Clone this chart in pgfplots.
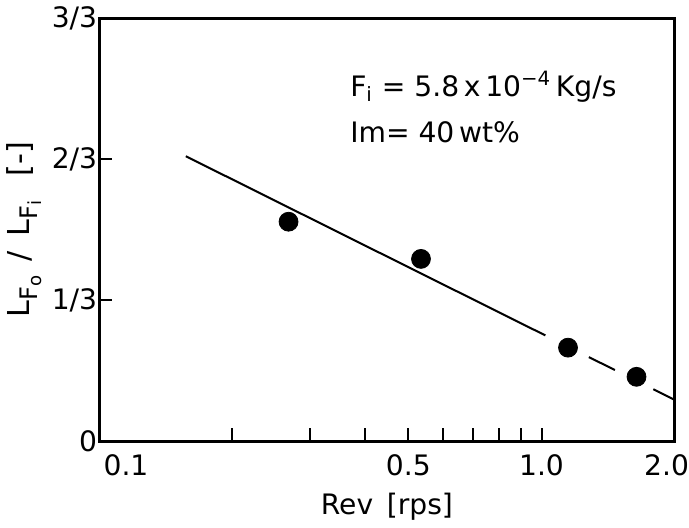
\documentclass[border=0pt]{standalone}
\usepackage{fontspec}
\setmainfont{DejaVu Sans}
\usepackage{pgfplots}
\pgfplotsset{compat=1.18}

\newcommand{\sub}[2]{#1\raisebox{-4pt}{\fontsize{12}{14}\selectfont #2}}
\begin{document}
\begin{tikzpicture}
\begin{axis}[
  scale only axis,
  width=286pt, height=210pt,
  xmode=log, log basis x=10,
  xmin=0.1, xmax=2.0,
  ymin=0, ymax=1,
  xtick={0.5,1,2},
  xticklabels={0.5,1.0,\kern-8pt 2.0},
  extra x ticks={0.1},
  extra x tick labels={0.1},
  extra x tick style={xticklabel style={anchor=north west, xshift=2pt}},
  minor xtick={0.2,0.3,0.4,0.6,0.7,0.8,0.9},
  ytick={0,0.3333,0.6667,1},
  yticklabels={0,1/3,2/3,3/3},
  tick align=inside,
  xtick pos=bottom, ytick pos=left,
  major tick length=6.5pt, minor tick length=6.5pt,
  every tick/.style={black, line width=1pt},
  axis line style={line width=1.5pt},
  tick label style={font=\fontsize{14}{17}\selectfont},
  xticklabel style={yshift=-3pt, inner xsep=0pt},
  yticklabel style={xshift=2.5pt},
  label style={font=\fontsize{14}{17}\selectfont},
  xlabel={Rev\, [rps]},
  ylabel={\sub{L}{F\raisebox{-2pt}{\fontsize{9}{10}\selectfont o}}\ \,/\,\ \sub{L}{F\raisebox{-2pt}{\fontsize{9}{10}\selectfont i}}\hspace{12pt}[-]},
  xlabel style={yshift=-2pt},
  ylabel style={yshift=-2pt, font=\fontsize{15}{17}\selectfont},
  clip=false,
]
% fitted line (solid part)
\addplot[black, line width=1pt] coordinates {(0.157,0.674) (1.02,0.250)};
% extrapolated part (dashed)
\addplot[black, line width=1pt] coordinates {(1.28,0.1986) (1.465,0.168)};
\addplot[black, line width=1pt] coordinates {(1.79,0.1226) (2.0,0.0975)};
% measured points
\addplot[only marks, mark=*, mark size=4.7pt, black] coordinates {
  (0.268,0.519) (0.534,0.431) (1.148,0.221) (1.64,0.152)
};
\node[anchor=west, font=\fontsize{14}{17}\selectfont] at (rel axis cs:0.424,0.838)
  {F\textsubscript{i} = 5.8\,x\,10\textsuperscript{−4}\,Kg/s};
\node[anchor=west, font=\fontsize{14}{17}\selectfont] at (rel axis cs:0.424,0.731)
  {Im= 40\,wt\%};
\end{axis}
\end{tikzpicture}
\end{document}
